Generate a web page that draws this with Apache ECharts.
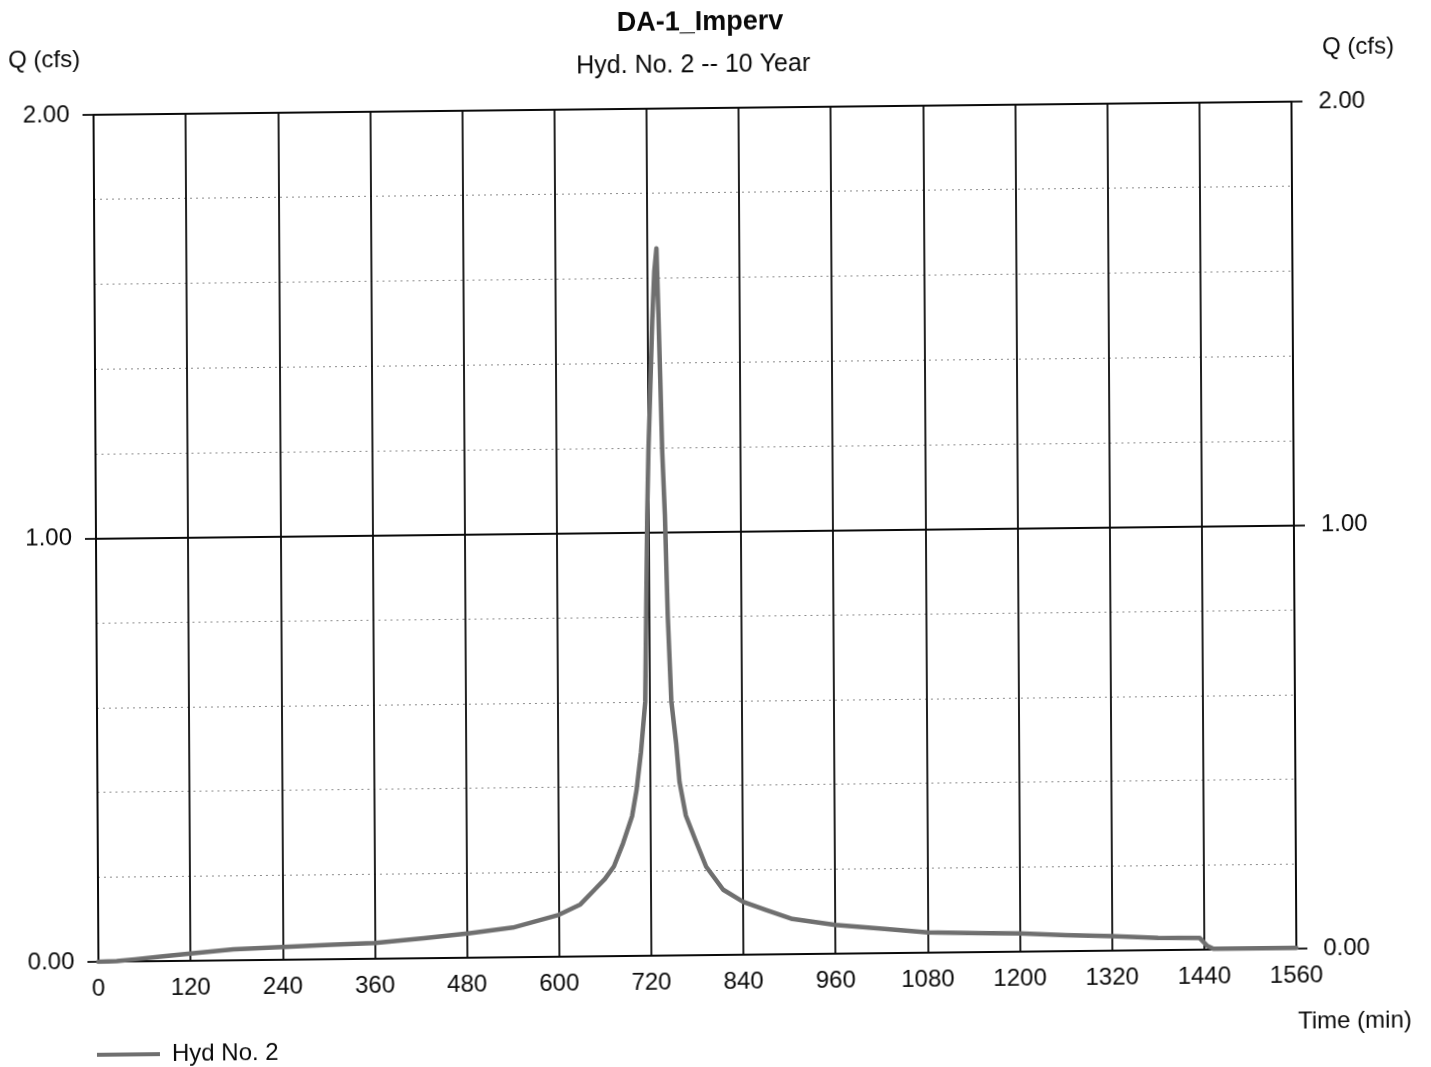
<!DOCTYPE html>
<html>
<head>
<meta charset="utf-8">
<title>DA-1_Imperv</title>
<script src="https://cdn.jsdelivr.net/npm/echarts@6/dist/echarts.min.js"></script>
<style>
  html, body { margin: 0; padding: 0; background: #ffffff; }
  #chart {
    position: absolute; left: 0; top: 0;
    width: 1431px; height: 1067px;
    background: #ffffff;
    /* slight skew of the printed sheet */
    transform-origin: 715.5px 533.5px;
    transform: matrix(1, -0.011, 0.0058, 1, 0, 0);
  }
</style>
</head>
<body>
<div id="chart"></div>
<script>
// Hydrograph ordinates: time (min) and discharge Q (cfs)
const timeMin = [0, 24, 48, 84, 120, 176, 240, 304, 360, 424, 484, 540, 600, 628, 648,
  660, 672, 684, 696, 702, 708, 714, 716, 718, 720, 723, 726, 729, 732, 734,
  736, 738, 741, 744, 748, 754, 758, 766, 780, 792, 814, 840, 870, 904, 960,
  1024, 1080, 1146, 1200, 1260, 1320, 1380, 1434, 1444, 1452, 1500, 1560];
const flowCfs = [0, 0.001, 0.005, 0.011, 0.017, 0.026, 0.030, 0.034, 0.037, 0.047, 0.058, 0.070, 0.099, 0.123, 0.160,
  0.182, 0.212, 0.266, 0.330, 0.391, 0.480, 0.600, 0.820, 1.040, 1.190, 1.343, 1.500, 1.615, 1.670, 1.520,
  1.360, 1.190, 1.040, 0.800, 0.600, 0.500, 0.410, 0.330, 0.264, 0.209, 0.154, 0.125, 0.105, 0.083, 0.068,
  0.057, 0.048, 0.045, 0.043, 0.038, 0.034, 0.029, 0.028, 0.009, 0.002, 0.002, 0.002];

// Axis ranges and tick spacing
const timeRange = [0, 1560];
const timeStep = 120;
const flowRange = [0, 2];
const flowStep = 1;
const flowMinorDivisions = 5;

const seriesName = 'Hyd No. 2';
const chartTitle = 'DA-1_Imperv';
const chartSubtitle = 'Hyd. No. 2 -- 10 Year';
const yAxisName = 'Q (cfs)';
const xAxisName = 'Time (min)';

const FONT = '"Liberation Sans", Arial, Helvetica, sans-serif';
const INK = '#0a0a0a';
const CURVE = '#6f6f6f';

const points = timeMin.map((t, i) => [t, flowCfs[i]]);

const chart = echarts.init(document.getElementById('chart'), null, { renderer: 'canvas' });

const yAxisCommon = {
  type: 'value',
  min: flowRange[0],
  max: flowRange[1],
  interval: flowStep,
  axisLine: { show: true, lineStyle: { color: INK, width: 1.8 } },
  axisTick: { show: true, inside: false, length: 11, lineStyle: { color: INK, width: 1.8 } },
  axisLabel: {
    color: INK, fontFamily: FONT, fontSize: 24,
    formatter: v => v.toFixed(2)
  }
};

chart.setOption({
  animation: false,
  backgroundColor: '#ffffff',
  title: [
    {
      text: chartTitle, left: 698, top: 4, textAlign: 'center',
      textStyle: { fontFamily: FONT, fontSize: 27, fontWeight: 'bold', color: INK }
    },
    {
      text: chartSubtitle, left: 691, top: 48, textAlign: 'center',
      textStyle: { fontFamily: FONT, fontSize: 25, fontWeight: 'normal', color: INK }
    }
  ],
  grid: { left: 96, top: 108, width: 1198, height: 847, containLabel: false },
  legend: {
    left: 94, top: 1036, padding: 0,
    itemWidth: 63, itemHeight: 4,
    icon: 'rect',
    data: [seriesName],
    itemStyle: { color: CURVE },
    textStyle: { fontFamily: FONT, fontSize: 24, color: INK, padding: [0, 0, 0, 7] }
  },
  xAxis: {
    type: 'value',
    min: timeRange[0],
    max: timeRange[1],
    interval: timeStep,
    axisLine: { show: true, lineStyle: { color: INK, width: 1.8 } },
    axisTick: { show: false },
    axisLabel: { color: INK, fontFamily: FONT, fontSize: 24, margin: 15, formatter: v => String(v) },
    splitLine: { show: true, lineStyle: { color: INK, width: 1.8 } }
  },
  yAxis: [
    Object.assign({}, yAxisCommon, {
      position: 'left',
      axisLabel: Object.assign({}, yAxisCommon.axisLabel, { margin: 24 }),
      splitLine: { show: true, lineStyle: { color: INK, width: 1.8 } },
      minorTick: { show: false, splitNumber: flowMinorDivisions },
      minorSplitLine: { show: true, lineStyle: { color: '#8c8c8c', width: 1, type: [2, 4] } }
    }),
    Object.assign({}, yAxisCommon, {
      position: 'right',
      axisLabel: Object.assign({}, yAxisCommon.axisLabel, { margin: 27 }),
      splitLine: { show: false }
    })
  ],
  graphic: [
    {
      type: 'text', left: 11, top: 41,
      style: { text: yAxisName, fontFamily: FONT, fontSize: 24, fill: INK }
    },
    {
      type: 'text', left: 1325, top: 42,
      style: { text: yAxisName, fontFamily: FONT, fontSize: 24, fill: INK }
    },
    {
      type: 'text', right: 22, top: 1016,
      style: { text: xAxisName, fontFamily: FONT, fontSize: 24, fill: INK }
    }
  ],
  series: [
    {
      name: seriesName,
      type: 'line',
      data: points,
      symbol: 'none',
      smooth: false,
      lineStyle: { color: CURVE, width: 4.5, join: 'round', cap: 'round' },
      itemStyle: { color: CURVE },
      z: 5
    }
  ]
});
</script>
</body>
</html>
